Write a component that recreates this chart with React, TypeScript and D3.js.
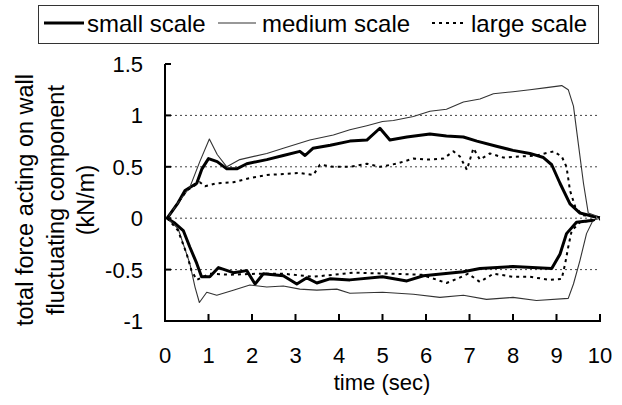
import * as d3 from 'd3';

// time (sec), force (kN/m) pairs
const smallUpper: [number, number][] = [
  [0.05, 0], [0.3, 0.15], [0.46, 0.27], [0.73, 0.34], [0.85, 0.48], [1.0, 0.58], [1.2, 0.55],
  [1.42, 0.48], [1.65, 0.48], [1.88, 0.53], [2.34, 0.57], [2.72, 0.61], [3.1, 0.65], [3.22, 0.61],
  [3.4, 0.68], [3.8, 0.71], [4.25, 0.75], [4.64, 0.76], [4.94, 0.875], [5.17, 0.76], [5.56, 0.79],
  [6.09, 0.82], [6.47, 0.8], [6.86, 0.79], [7.17, 0.75], [7.62, 0.7], [8.0, 0.66], [8.39, 0.63],
  [8.7, 0.59], [8.89, 0.52], [9.08, 0.34], [9.31, 0.14], [9.54, 0.05], [9.92, 0.01],
];
const mediumUpper: [number, number][] = [
  [0.05, 0], [0.3, 0.15], [0.57, 0.3], [0.8, 0.55], [1.02, 0.77], [1.2, 0.62], [1.42, 0.5],
  [1.72, 0.57], [2.34, 0.63], [2.72, 0.68], [3.33, 0.76], [3.87, 0.81], [4.25, 0.86], [4.64, 0.9],
  [5.0, 0.94], [5.25, 0.95], [5.71, 0.99], [6.09, 1.04], [6.47, 1.06], [6.86, 1.13], [7.24, 1.16],
  [7.55, 1.21], [8.0, 1.23], [8.39, 1.25], [8.77, 1.27], [9.12, 1.29], [9.27, 1.25], [9.39, 1.09],
  [9.5, 0.73], [9.62, 0.34], [9.73, 0.05], [10, 0.01],
];
const largeUpper: [number, number][] = [
  [0.05, 0], [0.3, 0.15], [0.5, 0.27], [0.8, 0.35], [0.92, 0.31], [1.19, 0.34], [1.57, 0.35],
  [1.95, 0.39], [2.34, 0.42], [2.72, 0.43], [3.1, 0.44], [3.41, 0.42], [3.56, 0.52], [3.87, 0.5],
  [4.25, 0.5], [4.64, 0.53], [4.94, 0.5], [5.32, 0.53], [5.71, 0.58], [6.09, 0.57], [6.4, 0.58],
  [6.63, 0.65], [6.78, 0.6], [6.94, 0.47], [7.09, 0.68], [7.24, 0.57], [7.47, 0.63], [7.78, 0.59],
  [8.16, 0.6], [8.54, 0.61], [8.93, 0.65], [9.12, 0.6], [9.23, 0.5], [9.31, 0.27], [9.43, 0.11],
  [9.6, 0.03], [10, 0.01],
];
const smallLower: [number, number][] = [
  [0.05, 0], [0.23, -0.05], [0.42, -0.12], [0.57, -0.28], [0.73, -0.44], [0.84, -0.57], [1.03, -0.57],
  [1.23, -0.48], [1.57, -0.53], [1.88, -0.51], [2.07, -0.64], [2.26, -0.54], [2.72, -0.56],
  [3.03, -0.64], [3.26, -0.58], [3.49, -0.63], [3.79, -0.59], [4.25, -0.6], [5.0, -0.57],
  [5.56, -0.61], [5.94, -0.56], [6.86, -0.52], [7.24, -0.49], [8.0, -0.47], [8.89, -0.49],
  [9.08, -0.35], [9.23, -0.15], [9.46, -0.04], [9.85, -0.02],
];
const mediumLower: [number, number][] = [
  [0.05, 0], [0.3, -0.1], [0.57, -0.44], [0.69, -0.67], [0.79, -0.82], [0.96, -0.72], [1.19, -0.75],
  [1.57, -0.7], [1.95, -0.65], [2.34, -0.67], [2.72, -0.66], [3.1, -0.69], [3.49, -0.7], [3.95, -0.69],
  [4.25, -0.73], [5.0, -0.72], [5.71, -0.74], [6.32, -0.77], [6.86, -0.75], [7.39, -0.79], [8.0, -0.77],
  [8.54, -0.8], [9.27, -0.78], [9.39, -0.64], [9.54, -0.41], [9.69, -0.15], [9.84, -0.02], [10, 0],
];
const largeLower: [number, number][] = [
  [0.05, 0], [0.3, -0.12], [0.5, -0.35], [0.61, -0.51], [0.73, -0.6], [1.03, -0.54], [1.5, -0.55],
  [2.1, -0.54], [2.72, -0.54], [3.4, -0.57], [4.1, -0.54], [4.33, -0.53], [5.25, -0.54], [5.9, -0.55],
  [6.47, -0.63], [6.71, -0.59], [6.97, -0.54], [7.24, -0.62], [7.55, -0.54], [8.0, -0.57],
  [8.39, -0.57], [8.85, -0.6], [9.12, -0.59], [9.2, -0.44], [9.27, -0.28], [9.35, -0.12],
  [9.54, -0.04], [10, -0.01],
];

const xTicks = [0, 1, 2, 3, 4, 5, 6, 7, 8, 9, 10];
const yTicks = [1.5, 1, 0.5, 0, -0.5, -1];
const gridValues = [1, 0.5, 0, -0.5];
const legendLabels = ['small scale', 'medium scale', 'large scale'];
const yTitle = ['total force acting on wall', 'fluctuating component', '(kN/m)'];

const W = 622;
const H = 405;
const font = '"Liberation Sans", Arial, sans-serif';

const styles = [
  { stroke: '#000', width: 3, dash: undefined as string | undefined },
  { stroke: '#333', width: 1.1, dash: undefined as string | undefined },
  { stroke: '#000', width: 2, dash: '3,4' },
];

export default function App() {
  const x = d3.scaleLinear().domain([0, 10]).range([165, 600]);
  const y = d3.scaleLinear().domain([-1, 1.5]).range([321, 64]);
  const line = d3.line<[number, number]>().x(d => x(d[0])).y(d => y(d[1]));

  const series = [
    { data: [smallUpper, smallLower], s: styles[0] },
    { data: [mediumUpper, mediumLower], s: styles[1] },
    { data: [largeUpper, largeLower], s: styles[2] },
  ];

  const legendItems = [
    { x0: 44, x1: 84, tx: 87 },
    { x0: 218, x1: 256, tx: 262 },
    { x0: 432, x1: 465, tx: 471 },
  ];

  return (
    <svg width={W} height={H} style={{ position: 'absolute', left: 0, top: 0, background: '#fff' }}>
      <rect x={0} y={0} width={W} height={H} fill="#fff" />

      {/* legend */}
      <rect x={38.5} y={5.5} width={560} height={38} fill="none" stroke="#333" strokeWidth={1} />
      {legendLabels.map((lab, i) => (
        <g key={lab}>
          <line x1={legendItems[i].x0} x2={legendItems[i].x1} y1={23} y2={23}
            stroke={styles[i].stroke} strokeWidth={styles[i].width} strokeDasharray={styles[i].dash} />
          <text x={legendItems[i].tx} y={32} fontFamily={font} fontSize={24} fill="#000">{lab}</text>
        </g>
      ))}

      {/* grid */}
      {gridValues.map(v => (
        <line key={v} x1={x(0)} x2={x(10)} y1={y(v)} y2={y(v)}
          stroke="#444" strokeWidth={1} strokeDasharray="2,3" />
      ))}

      {/* series */}
      {series.map((sr, i) => sr.data.map((d, j) => (
        <path key={`${i}-${j}`} d={line(d) || ''} fill="none" stroke={sr.s.stroke}
          strokeWidth={sr.s.width} strokeDasharray={sr.s.dash} strokeLinejoin="round" />
      )))}

      {/* axes */}
      <line x1={x(0)} x2={x(0)} y1={y(1.5)} y2={y(-1) + 1} stroke="#000" strokeWidth={2} />
      <line x1={x(0) - 1} x2={x(10) + 1} y1={y(-1)} y2={y(-1)} stroke="#000" strokeWidth={2} />
      {yTicks.map(v => (
        <line key={v} x1={x(0)} x2={x(0) + 6} y1={y(v)} y2={y(v)} stroke="#000" strokeWidth={2} />
      ))}
      {xTicks.map(t => (
        <line key={t} x1={x(t)} x2={x(t)} y1={y(-1)} y2={y(-1) - 7} stroke="#000" strokeWidth={2} />
      ))}

      {/* tick labels */}
      {yTicks.map(v => (
        <text key={v} x={143} y={y(v)} dy="0.36em" textAnchor="end" fontFamily={font} fontSize={22}>{String(v)}</text>
      ))}
      {xTicks.map(t => (
        <text key={t} x={x(t)} y={355} dy="0.36em" textAnchor="middle" fontFamily={font} fontSize={22}>{String(t)}</text>
      ))}

      {/* axis titles */}
      <text x={382} y={390} textAnchor="middle" fontFamily={font} fontSize={22}>time (sec)</text>
      <g transform="translate(0,200) rotate(-90)">
        {yTitle.map((t, i) => (
          <text key={t} x={0} y={25 + i * 30.5} dy="0.36em" textAnchor="middle" fontFamily={font} fontSize={23.5}>{t}</text>
        ))}
      </g>
    </svg>
  );
}
